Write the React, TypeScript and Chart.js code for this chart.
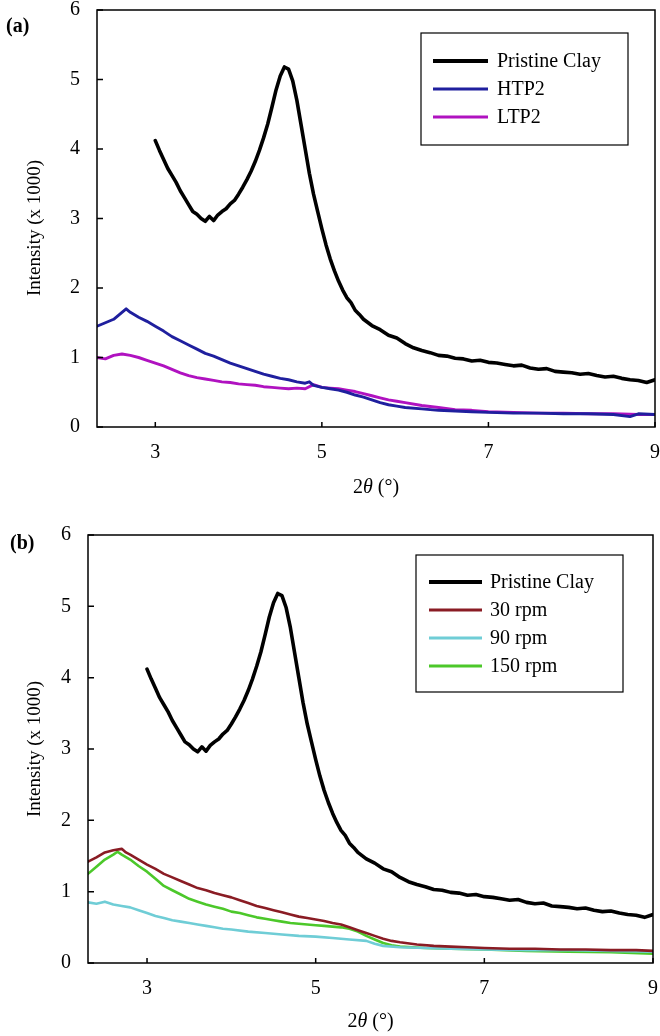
import React, { useEffect, useRef } from 'react';
import { Chart, registerables } from 'chart.js';

Chart.register(...registerables);

const X_TICKS = [3, 5, 7, 9];
const Y_TICKS = [0, 1, 2, 3, 4, 5, 6];

const clayX = [3.0, 3.05, 3.1, 3.15, 3.2, 3.25, 3.3, 3.35, 3.4, 3.45, 3.5, 3.55, 3.6, 3.65, 3.7, 3.75, 3.8, 3.85, 3.9, 3.95, 4.0, 4.05, 4.1, 4.15, 4.2, 4.25, 4.3, 4.35, 4.4, 4.45, 4.5, 4.55, 4.6, 4.65, 4.7, 4.75, 4.8, 4.85, 4.9, 4.95, 5.0, 5.05, 5.1, 5.15, 5.2, 5.25, 5.3, 5.35, 5.4, 5.45, 5.5, 5.6, 5.7, 5.8, 5.9, 6.0, 6.1, 6.2, 6.3, 6.4, 6.5, 6.6, 6.7, 6.8, 6.9, 7.0, 7.1, 7.2, 7.3, 7.4, 7.5, 7.6, 7.7, 7.8, 7.9, 8.0, 8.1, 8.2, 8.3, 8.4, 8.5, 8.6, 8.7, 8.8, 8.9, 9.0];
const clayY = [4.12, 3.98, 3.85, 3.72, 3.62, 3.52, 3.4, 3.3, 3.2, 3.1, 3.06, 3.0, 2.96, 3.03, 2.97, 3.05, 3.1, 3.14, 3.21, 3.26, 3.35, 3.45, 3.56, 3.68, 3.82, 3.98, 4.16, 4.36, 4.6, 4.85, 5.05, 5.18, 5.15, 4.98, 4.7, 4.35, 4.0, 3.65, 3.35, 3.1, 2.85, 2.62, 2.42, 2.25, 2.1, 1.97, 1.86, 1.79, 1.68, 1.62, 1.55, 1.46, 1.4, 1.32, 1.28, 1.2, 1.14, 1.1, 1.07, 1.03, 1.02, 0.99, 0.98, 0.95, 0.96, 0.93, 0.92, 0.9, 0.88, 0.89, 0.85, 0.83, 0.84, 0.8, 0.79, 0.78, 0.76, 0.77, 0.74, 0.72, 0.73, 0.7, 0.68, 0.67, 0.64, 0.68];

const htpX = [2.3, 2.4, 2.5, 2.6, 2.65, 2.7, 2.8, 2.9, 3.0, 3.1, 3.2, 3.3, 3.4, 3.5, 3.6, 3.7, 3.8, 3.9, 4.0, 4.1, 4.2, 4.3, 4.4, 4.5, 4.6, 4.7, 4.8, 4.85, 4.9, 5.0, 5.1, 5.2, 5.3, 5.4, 5.5, 5.6, 5.7, 5.8, 5.9, 6.0, 6.2, 6.4, 6.6, 6.8, 7.0, 7.3, 7.6, 7.9, 8.2, 8.5, 8.7, 8.8, 9.0];
const htpY = [1.45, 1.5, 1.55, 1.65, 1.7, 1.65, 1.58, 1.52, 1.45, 1.38, 1.3, 1.24, 1.18, 1.12, 1.06, 1.02, 0.97, 0.92, 0.88, 0.84, 0.8, 0.76, 0.73, 0.7, 0.68, 0.65, 0.63, 0.65, 0.6, 0.57, 0.55, 0.53, 0.5, 0.46, 0.43, 0.39, 0.35, 0.32, 0.3, 0.28, 0.26, 0.24, 0.23, 0.22, 0.21, 0.2, 0.2, 0.19, 0.19, 0.18, 0.15, 0.19, 0.18];

const ltpX = [2.3, 2.4, 2.5, 2.6, 2.7, 2.8, 2.9, 3.0, 3.1, 3.2, 3.3, 3.4, 3.5, 3.6, 3.7, 3.8, 3.9, 4.0, 4.1, 4.2, 4.3, 4.4, 4.5, 4.6, 4.7, 4.8, 4.9, 5.0, 5.1, 5.2, 5.3, 5.4, 5.5, 5.6, 5.7, 5.8, 5.9, 6.0, 6.2, 6.4, 6.6, 6.8, 7.0, 7.3, 7.6, 7.9, 8.2, 8.5, 8.8, 9.0];
const ltpY = [1.0, 0.98, 1.03, 1.05, 1.03, 1.0, 0.96, 0.92, 0.88, 0.83, 0.78, 0.74, 0.71, 0.69, 0.67, 0.65, 0.64, 0.62, 0.61, 0.6, 0.58, 0.57, 0.56, 0.55, 0.56, 0.55, 0.61, 0.57, 0.56, 0.55, 0.53, 0.51, 0.48, 0.45, 0.42, 0.39, 0.37, 0.35, 0.31, 0.28, 0.25, 0.24, 0.22, 0.21, 0.2, 0.2, 0.19, 0.19, 0.18, 0.18];

const rpm30X = [2.3, 2.4, 2.5, 2.6, 2.7, 2.75, 2.8, 2.9, 3.0, 3.1, 3.2, 3.3, 3.4, 3.5, 3.6, 3.7, 3.8, 3.9, 4.0, 4.1, 4.2, 4.3, 4.4, 4.5, 4.6, 4.7, 4.8, 4.9, 5.0, 5.1, 5.2, 5.3, 5.4, 5.5, 5.6, 5.7, 5.8, 5.9, 6.0, 6.2, 6.4, 6.6, 6.8, 7.0, 7.3, 7.6, 7.9, 8.2, 8.5, 8.8, 9.0];
const rpm30Y = [1.42, 1.48, 1.55, 1.58, 1.6, 1.55, 1.52, 1.45, 1.38, 1.32, 1.25, 1.2, 1.15, 1.1, 1.05, 1.02, 0.98, 0.95, 0.92, 0.88, 0.84, 0.8, 0.77, 0.74, 0.71, 0.68, 0.65, 0.63, 0.61, 0.59, 0.56, 0.54, 0.5, 0.46, 0.42, 0.38, 0.34, 0.31, 0.29, 0.26, 0.24, 0.23, 0.22, 0.21, 0.2, 0.2, 0.19, 0.19, 0.18, 0.18, 0.17];

const rpm90X = [2.3, 2.4, 2.5, 2.6, 2.7, 2.8, 2.9, 3.0, 3.1, 3.2, 3.3, 3.4, 3.5, 3.6, 3.7, 3.8, 3.9, 4.0, 4.2, 4.4, 4.6, 4.8, 5.0, 5.2, 5.4, 5.6, 5.7, 5.8, 6.0, 6.3, 6.6, 7.0, 7.5, 8.0, 8.5, 9.0];
const rpm90Y = [0.85, 0.83, 0.86, 0.82, 0.8, 0.78, 0.74, 0.7, 0.66, 0.63, 0.6, 0.58, 0.56, 0.54, 0.52, 0.5, 0.48, 0.47, 0.44, 0.42, 0.4, 0.38, 0.37, 0.35, 0.33, 0.31, 0.27, 0.24, 0.22, 0.21, 0.2, 0.19, 0.18, 0.18, 0.17, 0.16];

const rpm150X = [2.3, 2.4, 2.5, 2.6, 2.65, 2.7, 2.8, 2.9, 3.0, 3.1, 3.2, 3.3, 3.4, 3.5, 3.6, 3.7, 3.8, 3.9, 4.0, 4.1, 4.2, 4.3, 4.4, 4.5, 4.6, 4.7, 4.8, 4.9, 5.0, 5.1, 5.2, 5.3, 5.4, 5.5, 5.6, 5.7, 5.8, 5.9, 6.0, 6.3, 6.6, 7.0, 7.5, 8.0, 8.5, 9.0];
const rpm150Y = [1.25, 1.35, 1.45, 1.52, 1.56, 1.52, 1.45, 1.36, 1.28, 1.18, 1.08, 1.02, 0.96, 0.9, 0.86, 0.82, 0.79, 0.76, 0.72, 0.7, 0.67, 0.64, 0.62, 0.6, 0.58, 0.56, 0.55, 0.54, 0.53, 0.52, 0.51, 0.5, 0.48, 0.44, 0.38, 0.33, 0.28, 0.25, 0.23, 0.21, 0.2, 0.19, 0.17, 0.16, 0.15, 0.13];

const FONT = '"Liberation Serif", "Times New Roman", serif';

const pts = (xs: number[], ys: number[]) => xs.map((x, i) => ({ x, y: ys[i] }));

const decorPlugin = {
  id: 'decor',
  afterDraw(chart: any, _args: any, opts: any) {
    const ctx = chart.ctx;
    const ca = chart.chartArea;
    const xs = chart.scales.x;
    const ys = chart.scales.y;
    ctx.save();
    ctx.strokeStyle = '#000';
    ctx.lineWidth = 1.5;
    ctx.strokeRect(ca.left, ca.top, ca.right - ca.left, ca.bottom - ca.top);
    ctx.beginPath();
    X_TICKS.forEach((v) => {
      const px = xs.getPixelForValue(v);
      ctx.moveTo(px, ca.bottom);
      ctx.lineTo(px, ca.bottom - 5);
    });
    Y_TICKS.forEach((v) => {
      const py = ys.getPixelForValue(v);
      ctx.moveTo(ca.left, py);
      ctx.lineTo(ca.left + 6, py);
    });
    ctx.stroke();

    const lg = opts.legend;
    ctx.fillStyle = '#fff';
    ctx.fillRect(lg.x, lg.y, lg.w, lg.h);
    ctx.lineWidth = 1.2;
    ctx.strokeRect(lg.x, lg.y, lg.w, lg.h);
    ctx.font = `20px ${FONT}`;
    ctx.textBaseline = 'middle';
    ctx.textAlign = 'left';
    chart.data.datasets.forEach((ds: any, i: number) => {
      const y = lg.firstY + i * lg.step;
      ctx.strokeStyle = ds.borderColor;
      ctx.lineWidth = i === 0 ? 4 : 3;
      ctx.beginPath();
      ctx.moveTo(lg.lineX1, y);
      ctx.lineTo(lg.lineX2, y);
      ctx.stroke();
      ctx.fillStyle = '#000';
      ctx.fillText(ds.label, lg.textX, y + 1);
    });

    const cx = (ca.left + ca.right) / 2;
    const ty = opts.xTitleY;
    ctx.font = `20px ${FONT}`;
    const w1 = ctx.measureText('2').width;
    const w3 = ctx.measureText(' (°)').width;
    ctx.font = `italic 20px ${FONT}`;
    const w2 = ctx.measureText('θ').width;
    let sx = cx - (w1 + w2 + w3) / 2;
    ctx.fillStyle = '#000';
    ctx.textBaseline = 'middle';
    ctx.font = `20px ${FONT}`;
    ctx.fillText('2', sx, ty);
    sx += w1;
    ctx.font = `italic 20px ${FONT}`;
    ctx.fillText('θ', sx, ty);
    sx += w2;
    ctx.font = `20px ${FONT}`;
    ctx.fillText(' (°)', sx, ty);

    ctx.save();
    ctx.translate(opts.yTitleX, opts.yTitleY);
    ctx.rotate(-Math.PI / 2);
    ctx.textAlign = 'center';
    ctx.font = `19px ${FONT}`;
    ctx.fillText('Intensity (x 1000)', 0, 0);
    ctx.restore();

    ctx.font = `bold 20px ${FONT}`;
    ctx.textAlign = 'left';
    ctx.fillText(opts.panel, opts.panelX, opts.panelY);
    ctx.restore();
  },
};

type PanelProps = {
  top: number;
  height: number;
  datasets: any[];
  pad: { top: number; right: number };
  yWidth: number;
  xHeight: number;
  decor: any;
};

const zeroPad = (s: any) => {
  s.paddingLeft = 0;
  s.paddingRight = 0;
  s.paddingTop = 0;
  s.paddingBottom = 0;
};

function Panel({ top, height, datasets, pad, yWidth, xHeight, decor }: PanelProps) {
  const ref = useRef<HTMLCanvasElement | null>(null);
  useEffect(() => {
    if (!ref.current) return;
    const chart = new Chart(ref.current, {
      type: 'line',
      data: { datasets },
      plugins: [decorPlugin],
      options: {
        animation: false,
        responsive: false,
        devicePixelRatio: 1,
        layout: { padding: { top: pad.top, right: pad.right, left: 0, bottom: 0 } },
        plugins: {
          legend: { display: false },
          tooltip: { enabled: false },
          decor,
        } as any,
        elements: { point: { radius: 0 }, line: { tension: 0, borderJoinStyle: 'round', borderCapStyle: 'round' } },
        scales: {
          x: {
            type: 'linear',
            min: 2.3,
            max: 9,
            afterBuildTicks: (s: any) => {
              s.ticks = X_TICKS.map((v) => ({ value: v }));
            },
            afterFit: (s: any) => {
              s.height = xHeight;
              zeroPad(s);
            },
            grid: { display: false, drawTicks: false },
            border: { display: false },
            ticks: { color: '#000', padding: 14, font: { family: FONT, size: 20 }, maxRotation: 0 },
          },
          y: {
            type: 'linear',
            min: 0,
            max: 6,
            afterBuildTicks: (s: any) => {
              s.ticks = Y_TICKS.map((v) => ({ value: v }));
            },
            afterFit: (s: any) => {
              s.width = yWidth;
              zeroPad(s);
            },
            grid: { display: false, drawTicks: false },
            border: { display: false },
            ticks: { color: '#000', padding: 17, font: { family: FONT, size: 20 } },
          },
        },
      } as any,
    });
    return () => chart.destroy();
  }, []);
  return (
    <div style={{ position: 'absolute', left: 0, top, width: 660, height }}>
      <canvas ref={ref} width={660} height={height} style={{ width: 660, height, display: 'block' }} />
    </div>
  );
}

export default function App() {
  const dsA = [
    { label: 'Pristine Clay', data: pts(clayX, clayY), borderColor: '#000000', borderWidth: 3.6 },
    { label: 'HTP2', data: pts(htpX, htpY), borderColor: '#1f1f9e', borderWidth: 2.9 },
    { label: 'LTP2', data: pts(ltpX, ltpY), borderColor: '#b012c0', borderWidth: 2.9 },
  ];
  const dsB = [
    { label: 'Pristine Clay', data: pts(clayX, clayY), borderColor: '#000000', borderWidth: 3.6 },
    { label: '30 rpm', data: pts(rpm30X, rpm30Y), borderColor: '#8a1c24', borderWidth: 2.6 },
    { label: '90 rpm', data: pts(rpm90X, rpm90Y), borderColor: '#6fcdd6', borderWidth: 2.6 },
    { label: '150 rpm', data: pts(rpm150X, rpm150Y), borderColor: '#4cc82a', borderWidth: 2.6 },
  ];
  return (
    <div style={{ position: 'absolute', left: 0, top: 0, width: 660, height: 1036, background: '#fff' }}>
      <Panel
        top={0}
        height={500}
        datasets={dsA}
        pad={{ top: 10, right: 5 }}
        yWidth={97}
        xHeight={73}
        decor={{
          legend: { x: 421, y: 33, w: 207, h: 112, lineX1: 433, lineX2: 488, textX: 497, firstY: 61, step: 28 },
          xTitleY: 488,
          yTitleX: 35,
          yTitleY: 228,
          panel: '(a)',
          panelX: 6,
          panelY: 27,
        }}
      />
      <Panel
        top={500}
        height={536}
        datasets={dsB}
        pad={{ top: 35, right: 7 }}
        yWidth={88}
        xHeight={73}
        decor={{
          legend: { x: 416, y: 55, w: 207, h: 137, lineX1: 429, lineX2: 482, textX: 490, firstY: 82, step: 28 },
          xTitleY: 522,
          yTitleX: 35,
          yTitleY: 249,
          panel: '(b)',
          panelX: 10,
          panelY: 44,
        }}
      />
    </div>
  );
}
